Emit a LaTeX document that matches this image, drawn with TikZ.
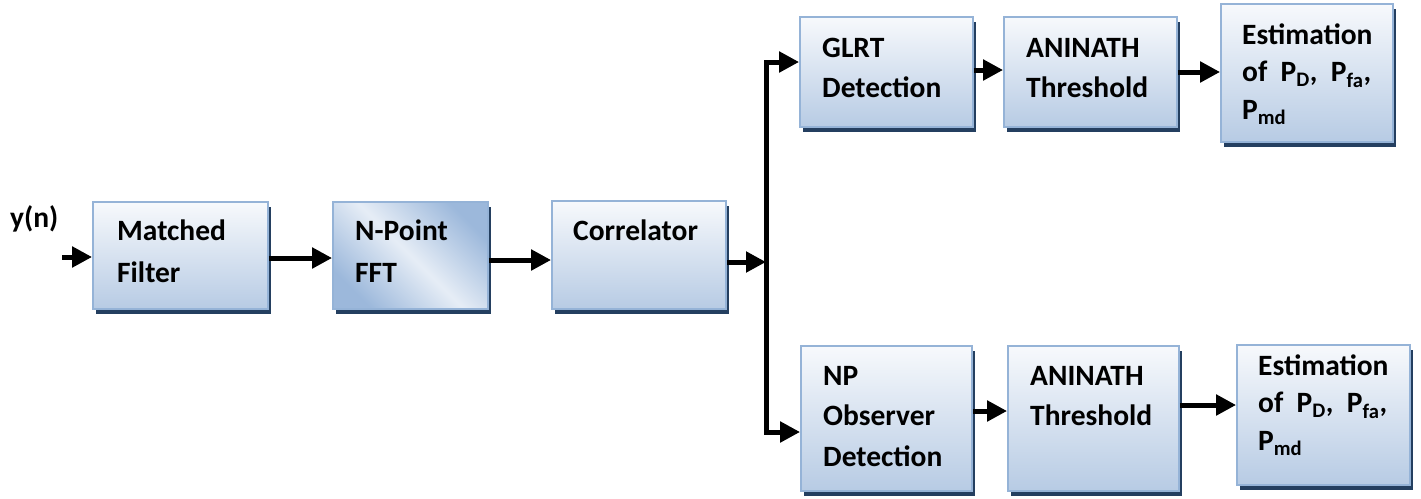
\documentclass[tikz,border=0pt]{standalone}
\usepackage{fontspec}
\setmainfont{Carlito}
\usetikzlibrary{arrows.meta,shadows}
\definecolor{boxedge}{HTML}{95B3D7}
\definecolor{boxtop}{HTML}{F7F9FC}
\definecolor{boxbot}{HTML}{B7CBE4}
\definecolor{boxshadow}{HTML}{243F60}
\definecolor{fftdark}{HTML}{9CB8DB}
\definecolor{fftlight}{HTML}{E6EDF6}
\begin{document}
\begin{tikzpicture}[x=1pt,y=-1pt,
  blk/.style={draw=boxedge, line width=1.8pt, top color=boxtop, bottom color=boxbot,
    drop shadow={shadow xshift=3pt, shadow yshift=-5pt, fill=boxshadow, opacity=1},
    inner sep=0pt},
  fftfill/.style={left color=fftdark, right color=fftdark, middle color=fftlight, shading angle=-45},
  txt/.style={anchor=base west, align=left, inner sep=0pt,
    font=\bfseries\fontsize{29.5}{#1}\selectfont},
  txt/.default=41,
  arr/.style={line width=5pt, -{Triangle[length=20pt,width=20pt]}},
  bus/.style={line width=4pt}]
\useasboundingbox (0,0) rectangle (1421,498);

% processing chain
\node[blk, minimum width=175pt, minimum height=107pt] (mf)  at (180.5,255.5) {};
\node[blk, fftfill, minimum width=155pt, minimum height=107pt] (fft) at (410.5,255.5) {};
\node[blk, minimum width=174pt, minimum height=108pt] (cor) at (639,255) {};

% upper branch
\node[blk, minimum width=173pt, minimum height=110pt] (glrt) at (886.5,72) {};
\node[blk, minimum width=173pt, minimum height=110pt] (thr1) at (1090.5,72) {};
\node[blk, minimum width=172pt, minimum height=138pt] (est1) at (1307,73) {};

% lower branch
\node[blk, minimum width=171pt, minimum height=145pt] (np)   at (886.5,418.5) {};
\node[blk, minimum width=171pt, minimum height=145pt] (thr2) at (1093.5,418.5) {};
\node[blk, minimum width=173pt, minimum height=140pt] (est2) at (1323.5,415) {};

% labels (placed by the baseline of their last line)
\node[txt] (yn) at (10,227) {y(n)};
\node[txt=42] (mfT)  at (117,282) {Matched\\Filter};
\node[txt=42] (fftT) at (355,282) {N-Point\\FFT};
\node[txt] (corT) at (573,240) {Correlator};
\node[txt=40] (glrtT) at (822,97) {GLRT\\Detection};
\node[txt=40] (thr1T) at (1026,97) {ANINATH\\Threshold};
\node[txt=37.5] (est1T) at (1242,119) {Estimation\\of \ P\textsubscript{D},\ \ P\textsubscript{fa},\\P\textsubscript{md}};
\node[txt=40.5] (npT) at (823,466) {NP\\Observer\\Detection};
\node[txt=40] (thr2T) at (1030,425) {ANINATH\\Threshold};
\node[txt=37.5] (est2T) at (1258,450) {Estimation\\of \ P\textsubscript{D},\ \ P\textsubscript{fa},\\P\textsubscript{md}};

% connectors
\coordinate (in) at (62,257);
\coordinate (jn) at (766,262);
\draw[arr] (in) -- (in -| mf.west);
\draw[arr] ([yshift=-2.5pt]mf.east) -- ([yshift=-2.5pt]fft.west);
\draw[arr] ([yshift=-4.5pt]fft.east) -- ([yshift=-4.5pt]fft.east -| cor.west);
\draw[arr] ([yshift=-7pt]cor.east) -- (jn);
\draw[bus, arr] (jn) |- ([yshift=10pt]glrt.west);
\draw[bus, arr] (jn) |- ([yshift=-13.5pt]np.west);
\draw[arr] ([yshift=2pt]glrt.east) -- ([yshift=2pt]glrt.east -| thr1.west);
\draw[arr] (thr1.east) -- (thr1.east -| est1.west);
\draw[arr] ([yshift=7.5pt]np.east) -- ([yshift=7.5pt]np.east -| thr2.west);
\draw[arr] ([yshift=13.5pt]thr2.east) -- ([yshift=13.5pt]thr2.east -| est2.west);
\end{tikzpicture}
\end{document}
